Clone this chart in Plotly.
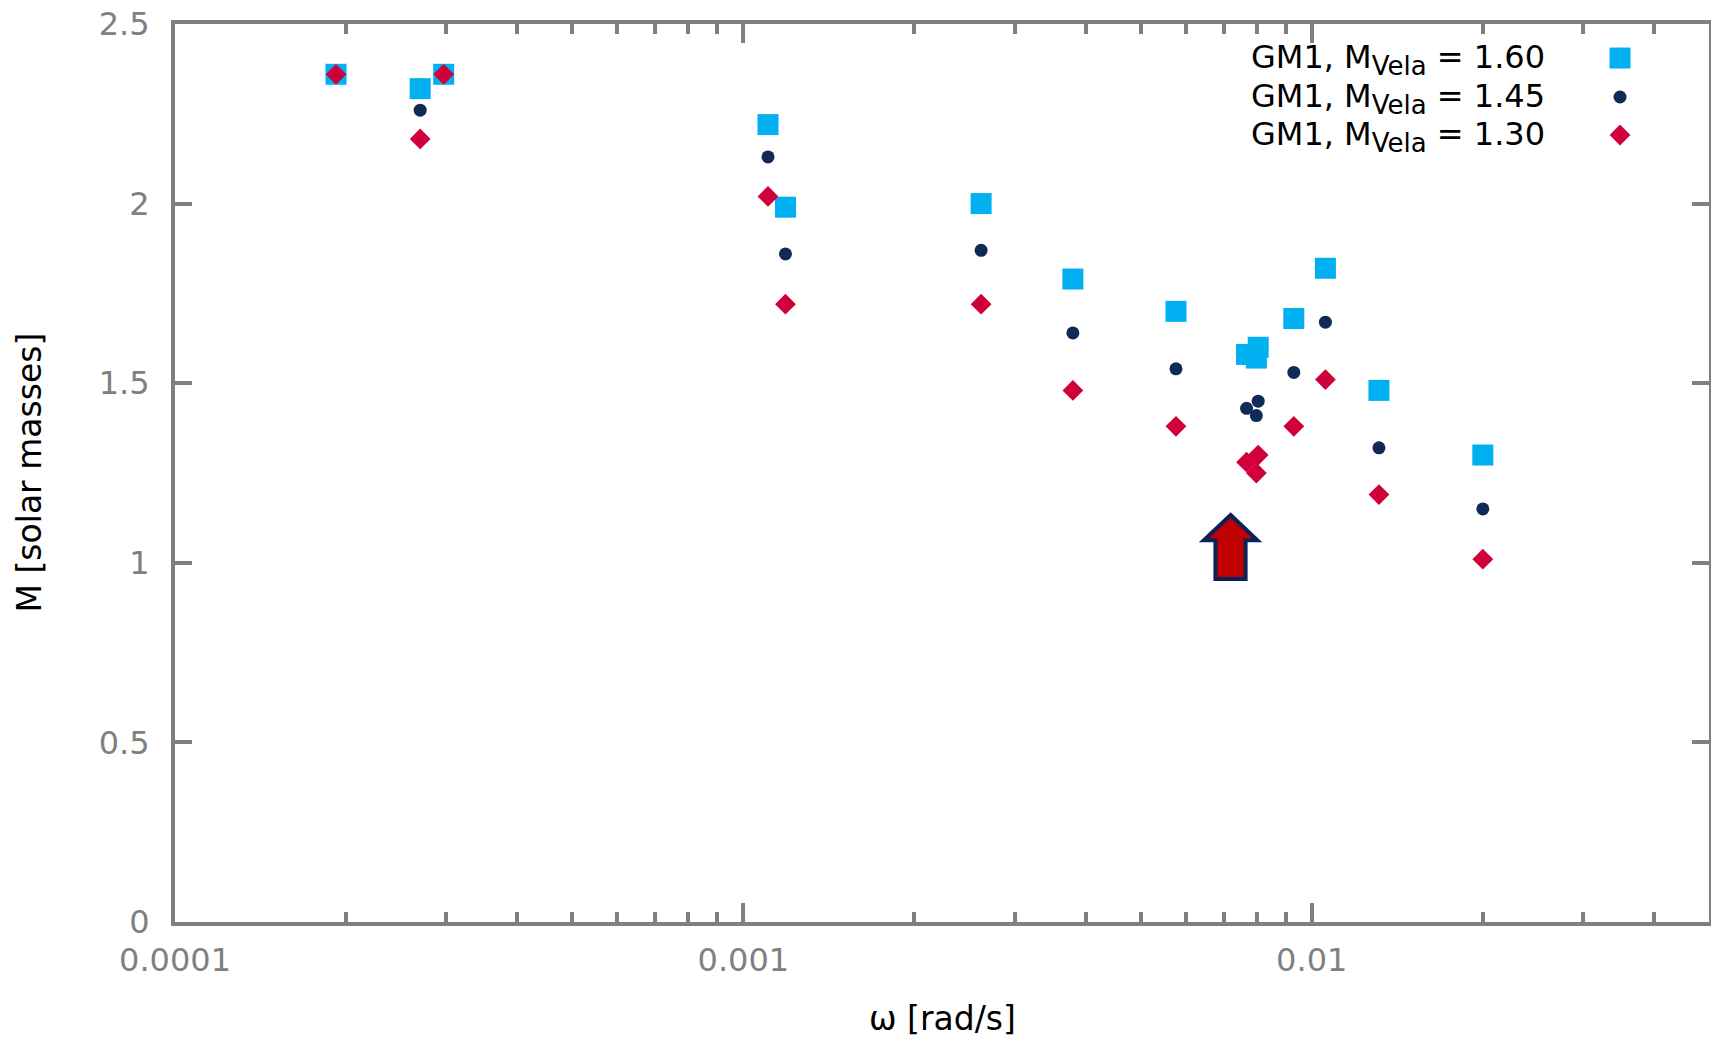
import plotly.graph_objects as go

# ---------------- data ----------------
OMEGA = [1.92e-4, 2.70e-4, 2.97e-4, 1.105e-3, 1.186e-3, 2.62e-3, 3.80e-3, 5.77e-3,
         7.68e-3, 7.99e-3, 8.05e-3, 9.30e-3, 1.057e-2, 1.313e-2, 2.00e-2]
M_160 = [2.36, 2.32, 2.36, 2.22, 1.99, 2.00, 1.79, 1.70, 1.58, 1.57, 1.60, 1.68, 1.82, 1.48, 1.30]
M_145 = [2.36, 2.26, 2.36, 2.13, 1.86, 1.87, 1.64, 1.54, 1.43, 1.41, 1.45, 1.53, 1.67, 1.32, 1.15]
M_130 = [2.36, 2.18, 2.36, 2.02, 1.72, 1.72, 1.48, 1.38, 1.28, 1.25, 1.30, 1.38, 1.51, 1.19, 1.01]

SERIES_NAMES = ["GM1, M<sub><span style='font-size:26px'>Vela</span></sub> = 1.60",
                "GM1, M<sub><span style='font-size:26px'>Vela</span></sub> = 1.45",
                "GM1, M<sub><span style='font-size:26px'>Vela</span></sub> = 1.30"]

X_MAJOR = [1e-4, 1e-3, 1e-2]
X_MAJOR_TEXT = ["0.0001", "0.001", "0.01"]
X_MINOR = [m * d for d in (1e-4, 1e-3, 1e-2) for m in range(2, 10) if m * d <= 0.045]
Y_TICKS = [0, 0.5, 1, 1.5, 2, 2.5]
Y_TICK_TEXT = ["0", "0.5", "1", "1.5", "2", "2.5"]

# arrow marker (data units): tip, head, shaft
ARROW_TIP = (7.20e-3, 1.133)
ARROW_HEAD_X = (6.46e-3, 8.02e-3)
ARROW_SHAFT_X = (6.77e-3, 7.65e-3)
ARROW_HEAD_BASE_Y = 1.063
ARROW_BOTTOM_Y = 0.955

# ---------------- style ----------------
C_SQ = "#00B0F0"
C_CI = "#0E2A55"
C_DI = "#D0003A"
AXIS_GRAY = "#808080"
FONT = "DejaVu Sans"

fig = go.Figure()
styles = [("square", C_SQ, 21), ("circle", C_CI, 13), ("diamond", C_DI, 16)]
for name, ys, (sym, col, sz) in zip(SERIES_NAMES, [M_160, M_145, M_130], styles):
    fig.add_trace(go.Scatter(x=OMEGA, y=ys, mode="markers", name=name, showlegend=False,
                             marker=dict(symbol=sym, color=col, size=sz, line=dict(width=0)),
                             cliponaxis=False))

# custom gnuplot-style legend (text, then symbol on the right)
LEG_SYM_X = 0.942
LEG_Y = [0.9621, 0.9187, 0.8764]
LEG_TEXT_X = 0.8943
for (sym, col, sz), name, ly in zip(styles, SERIES_NAMES, LEG_Y):
    fig.add_trace(go.Scatter(x=[LEG_SYM_X], y=[ly], xaxis="x2", yaxis="y2", mode="markers",
                             showlegend=False, hoverinfo="skip",
                             marker=dict(symbol=sym, color=col, size=sz, line=dict(width=0))))
    fig.add_annotation(x=LEG_TEXT_X, y=ly - 0.002, xref="paper", yref="paper", text=name,
                       showarrow=False, xanchor="right", yanchor="middle",
                       font=dict(family=FONT, size=32, color="#000000"))

# arrow
ty = ARROW_TIP[1]
path = (f"M {ARROW_TIP[0]},{ty} L {ARROW_HEAD_X[1]},{ARROW_HEAD_BASE_Y} "
        f"L {ARROW_SHAFT_X[1]},{ARROW_HEAD_BASE_Y} L {ARROW_SHAFT_X[1]},{ARROW_BOTTOM_Y} "
        f"L {ARROW_SHAFT_X[0]},{ARROW_BOTTOM_Y} L {ARROW_SHAFT_X[0]},{ARROW_HEAD_BASE_Y} "
        f"L {ARROW_HEAD_X[0]},{ARROW_HEAD_BASE_Y} Z")
fig.add_shape(type="path", path=path, xref="x", yref="y",
              fillcolor="#C00000", line=dict(color="#0A2258", width=4), layer="above")

# axis titles
fig.add_annotation(x=0.5, y=-0.108, xref="paper", yref="paper", text="ω [rad/s]",
                   showarrow=False, xanchor="center", yanchor="middle",
                   font=dict(family=FONT, size=33, color="#000000"))
fig.add_annotation(x=-0.0955, y=0.5, xref="paper", yref="paper", text="M [solar masses]",
                   showarrow=False, xanchor="center", yanchor="middle", textangle=-90,
                   font=dict(family=FONT, size=33, color="#000000"))

tickfont = dict(family=FONT, size=32, color=AXIS_GRAY)
fig.update_layout(
    width=1711, height=1029,
    margin=dict(l=167, r=10, t=16, b=115, autoexpand=False),
    paper_bgcolor="white", plot_bgcolor="white",
    showlegend=False,
    xaxis=dict(type="log", range=[-4, -1.30103], tickvals=X_MAJOR, ticktext=X_MAJOR_TEXT,
               ticks="inside", ticklen=19, tickwidth=4, tickcolor=AXIS_GRAY,
               showline=True, linecolor=AXIS_GRAY, linewidth=4, mirror="ticks",
               showgrid=False, zeroline=False, tickfont=tickfont, ticklabelstandoff=7,
               ticklabeloverflow="allow", automargin=False,
               minor=dict(tickvals=X_MINOR, ticks="inside", ticklen=10, tickwidth=4,
                          tickcolor=AXIS_GRAY, showgrid=False)),
    yaxis=dict(range=[0, 2.5], tickvals=Y_TICKS, ticktext=Y_TICK_TEXT,
               ticks="inside", ticklen=17, tickwidth=4, tickcolor=AXIS_GRAY,
               showline=True, linecolor=AXIS_GRAY, linewidth=4, mirror="ticks",
               showgrid=False, zeroline=False, tickfont=tickfont, ticklabelstandoff=15,
               ticklabeloverflow="allow", automargin=False),
    xaxis2=dict(overlaying="x", range=[0, 1], visible=False, fixedrange=True, automargin=False),
    yaxis2=dict(overlaying="y", range=[0, 1], visible=False, fixedrange=True, automargin=False),
)

fig.write_html("out.html")
